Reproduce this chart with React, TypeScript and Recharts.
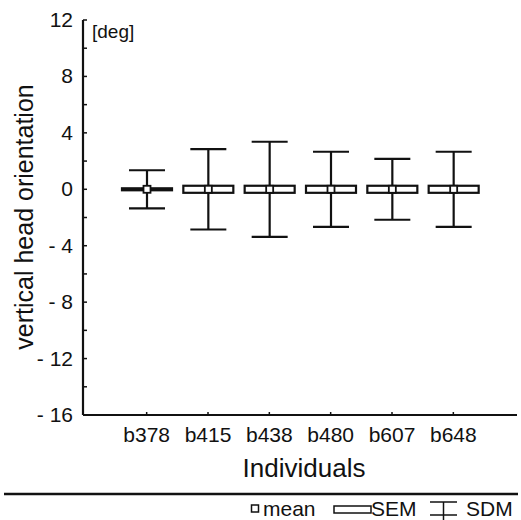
import React from 'react';
import { ComposedChart, Bar, XAxis, YAxis } from 'recharts';

// individuals and their statistics (deg)
const individuals = ['b378', 'b415', 'b438', 'b480', 'b607', 'b648'];
const means = [0, 0, 0, 0, 0, 0];
const sems = [0.07, 0.25, 0.25, 0.25, 0.25, 0.25];
const sdms = [1.35, 2.85, 3.37, 2.66, 2.16, 2.66];

const yTicks = [-16, -14, -12, -10, -8, -6, -4, -2, 0, 2, 4, 6, 8, 10, 12];
const yLabelled = [-16, -12, -8, -4, 0, 4, 8, 12];

const FONT = '"Liberation Sans", Arial, Helvetica, sans-serif';

const data = individuals.map((name, i) => ({
  name,
  mean: means[i],
  sem: sems[i],
  sdm: sdms[i],
  range: [means[i] - sdms[i], means[i] + sdms[i]],
}));

const fmtDeg = (v: number) => (v < 0 ? `- ${Math.abs(v)}` : `${v}`);

// whisker (SDM), box (SEM) and mean square drawn from the bar's geometry
const BoxShape = (props: any) => {
  const { x, y, width, height, payload } = props;
  const top = Math.min(y, y + height);
  const h = Math.abs(height);
  const hi = payload.mean + payload.sdm;
  const lo = payload.mean - payload.sdm;
  const ppu = h / (hi - lo || 1);
  const toY = (v: number) => top + (hi - v) * ppu;
  const cx = x + width / 2;
  const cap = width * 0.36;
  const ym = toY(payload.mean);
  const yb1 = toY(payload.mean + payload.sem);
  const yb2 = toY(payload.mean - payload.sem);
  return (
    <g stroke="#111" strokeWidth={2.2} fill="none">
      <line x1={cx} x2={cx} y1={toY(hi)} y2={toY(lo)} />
      <line x1={cx - cap} x2={cx + cap} y1={toY(hi)} y2={toY(hi)} />
      <line x1={cx - cap} x2={cx + cap} y1={toY(lo)} y2={toY(lo)} />
      <rect x={x} y={yb1} width={width} height={yb2 - yb1} fill="#fff" />
      <rect x={cx - 3.5} y={ym - 3.5} width={7} height={7} fill="#fff" strokeWidth={1.8} />
    </g>
  );
};

const YTick = (props: any) => {
  const { x, y, payload } = props;
  const major = yLabelled.includes(payload.value);
  return (
    <g>
      <line x1={x} x2={x + 4} y1={y} y2={y} stroke="#111" strokeWidth={1.5} />
      {major && (
        <text x={x - 10} y={y + 7} textAnchor="end" fontSize={21} fontFamily={FONT} fill="#111">
          {fmtDeg(payload.value)}
        </text>
      )}
    </g>
  );
};

const XTick = (props: any) => {
  const { x, y, payload } = props;
  return (
    <g>
      <line x1={x} x2={x} y1={y} y2={y - 3} stroke="#111" strokeWidth={1.5} />
      <text x={x} y={y + 27} textAnchor="middle" fontSize={21} fontFamily={FONT} fill="#111">
        {payload.value}
      </text>
    </g>
  );
};

export default function App() {
  return (
    <div style={{ position: 'absolute', left: 0, top: 0, width: 521, height: 520, background: '#fff' }}>
      <ComposedChart
        width={521}
        height={520}
        data={data}
        margin={{ top: 20, right: 4, left: 0, bottom: 75 }}
      >
        <XAxis
          dataKey="name"
          height={30}
          padding={{ left: 33, right: 33 }}
          axisLine={{ stroke: '#111', strokeWidth: 2.2 }}
          tickLine={false}
          tickSize={0}
          tickMargin={0}
          tick={<XTick />}
          interval={0}
        />
        <YAxis
          width={83}
          domain={[-16, 12]}
          ticks={yTicks}
          interval={0}
          allowDataOverflow
          axisLine={{ stroke: '#111', strokeWidth: 2.2 }}
          tickLine={false}
          tickSize={0}
          tickMargin={0}
          tick={<YTick />}
        />
        <Bar dataKey="range" barSize={50} shape={<BoxShape />} isAnimationActive={false} />
      </ComposedChart>
      <svg
        width={521}
        height={520}
        style={{ position: 'absolute', left: 0, top: 0, pointerEvents: 'none' }}
        fontFamily={FONT}
      >
        <text x={92} y={38} fontSize={19} fill="#111">[deg]</text>
        <text
          x={33}
          y={217}
          fontSize={25}
          fill="#111"
          textAnchor="middle"
          transform="rotate(-90, 33, 217)"
        >
          vertical head orientation
        </text>
        <text x={304} y={477} fontSize={26} fill="#111" textAnchor="middle">Individuals</text>
        <line x1={4} x2={518} y1={494} y2={494} stroke="#111" strokeWidth={2.5} />
        {/* legend */}
        <rect x={251.5} y={505} width={7} height={7} fill="#fff" stroke="#111" strokeWidth={1.5} />
        <text x={263} y={516} fontSize={21} fill="#111">mean</text>
        <rect x={334} y={506} width={37} height={7} fill="#fff" stroke="#111" strokeWidth={1.5} />
        <text x={371} y={516} fontSize={21} fill="#111">SEM</text>
        <g stroke="#111" strokeWidth={1.5}>
          <line x1={430} x2={457} y1={502} y2={502} />
          <line x1={443.5} x2={443.5} y1={502} y2={520} />
          <line x1={430} x2={457} y1={515} y2={515} />
        </g>
        <text x={466} y={516} fontSize={21} fill="#111">SDM</text>
      </svg>
    </div>
  );
}
